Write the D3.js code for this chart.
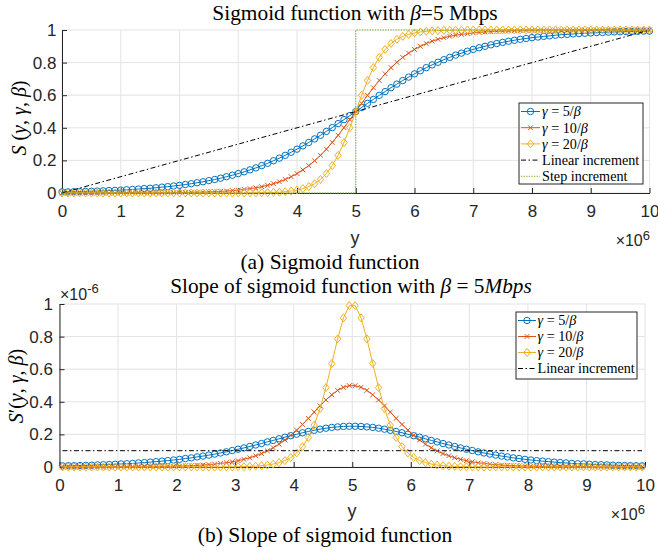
<!DOCTYPE html>
<html><head><meta charset="utf-8">
<script src="https://cdn.jsdelivr.net/npm/d3@7"></script>
<style>body{margin:0;background:#fff}svg{display:block}</style>
</head><body>
<svg id="c" width="658" height="552"></svg>
<script>
// ---------- data ----------
const xStep = 1e5;            // sample spacing of y (bps)
const xTickVals = [0,1,2,3,4,5,6,7,8,9,10];   // ×10^6
const yTickVals = [0,0.2,0.4,0.6,0.8,1];
const yTickLabels = ["0","0.2","0.4","0.6","0.8","1"];

// (a) S(y) at y = 0, 0.1e6, ..., 10e6
const sigBlue = [
.007,.007,.008,.009,.010,.011,.012,.013,.015,.016,
.018,.020,.022,.024,.027,.029,.032,.036,.039,.043,
.047,.052,.057,.063,.069,.076,.083,.091,.100,.109,
.119,.130,.142,.154,.168,.182,.198,.214,.231,.250,
.269,.289,.310,.332,.354,.378,.401,.426,.450,.475,
.500,
.525,.550,.574,.599,.622,.646,.668,.690,.711,.731,
.750,.769,.786,.802,.818,.832,.846,.858,.870,.881,
.891,.900,.909,.917,.924,.931,.937,.943,.948,.953,
.957,.961,.964,.968,.971,.973,.976,.978,.980,.982,
.984,.985,.987,.988,.989,.990,.991,.992,.993,.993];
const sigRed = [
0,0,0,0,0,0,0,0,0,0,
0,0,.001,.001,.001,.001,.001,.001,.002,.002,
.002,.003,.004,.004,.005,.007,.008,.010,.012,.015,
.018,.022,.027,.032,.039,.047,.057,.069,.083,.100,
.119,.142,.168,.198,.231,.269,.310,.354,.401,.450,
.500,
.550,.599,.646,.690,.731,.769,.802,.832,.858,.881,
.900,.917,.931,.943,.953,.961,.968,.973,.978,.982,
.985,.988,.990,.992,.993,.995,.996,.996,.997,.998,
.998,.998,.999,.999,.999,.999,.999,.999,1,1,
1,1,1,1,1,1,1,1,1,1];
const sigYel = [
0,0,0,0,0,0,0,0,0,0,
0,0,0,0,0,0,0,0,0,0,
0,0,0,0,0,0,0,0,0,0,
0,0,.001,.001,.002,.002,.004,.005,.008,.012,
.018,.027,.039,.057,.083,.119,.168,.231,.310,.401,
.500,
.599,.690,.769,.832,.881,.917,.943,.961,.973,.982,
.988,.992,.995,.996,.998,.998,.999,.999,1,1,
1,1,1,1,1,1,1,1,1,1,
1,1,1,1,1,1,1,1,1,1,
1,1,1,1,1,1,1,1,1,1];
const linX = [0, 1e7], linY = [0, 1];
const stepX = [0, 5e6, 5e6, 1e7], stepY = [0, 0, 1, 1];

// (b) S'(y) in units of 1e-6, at y = 0.05e6, 0.15e6, ..., 9.95e6
const dBlue = [
.007,.008,.008,.009,.010,.011,.013,.014,.015,.017,
.019,.020,.022,.025,.027,.030,.033,.036,.039,.043,
.047,.052,.056,.062,.067,.073,.079,.086,.093,.101,
.109,.117,.126,.135,.144,.154,.163,.173,.183,.192,
.201,.210,.218,.225,.232,.238,.243,.246,.249,.250,
.250,.249,.246,.243,.238,.232,.225,.218,.210,.201,
.192,.183,.173,.163,.154,.144,.135,.126,.117,.109,
.101,.093,.086,.079,.073,.067,.062,.056,.052,.047,
.043,.039,.036,.033,.030,.027,.025,.022,.020,.019,
.017,.015,.014,.013,.011,.010,.009,.008,.008,.007];
const dRed = [
0,0,0,0,0,0,0,0,0,.001,
.001,.001,.001,.001,.002,.002,.002,.003,.004,.004,
.005,.007,.008,.010,.012,.015,.018,.022,.026,.032,
.039,.047,.057,.069,.082,.099,.118,.140,.166,.194,
.226,.261,.298,.337,.375,.411,.443,.470,.489,.499,
.499,.489,.470,.443,.411,.375,.337,.298,.261,.226,
.194,.166,.140,.118,.099,.082,.069,.057,.047,.039,
.032,.026,.022,.018,.015,.012,.010,.008,.007,.005,
.004,.004,.003,.002,.002,.002,.001,.001,.001,.001,
.001,0,0,0,0,0,0,0,0,0];
const dYel = [
0,0,0,0,0,0,0,0,0,0,
0,0,0,0,0,0,0,0,0,0,
0,0,0,0,0,0,0,0,.001,.001,
.002,.002,.004,.005,.008,.012,.018,.027,.039,.058,
.086,.125,.181,.257,.359,.487,.635,.786,.915,.990,
.990,.915,.786,.635,.487,.359,.257,.181,.125,.086,
.058,.039,.027,.018,.012,.008,.005,.004,.002,.002,
.001,.001,0,0,0,0,0,0,0,0,
0,0,0,0,0,0,0,0,0,0,
0,0,0,0,0,0,0,0,0,0];
const dLinX = [0.05e6, 9.95e6], dLinY = [0.1, 0.1];

const C = {blue:"#0072BD", red:"#D95319", yel:"#EDB120", green:"#77AC30", black:"#000"};
const SERIF = "'Liberation Serif','Times New Roman',serif";
const SANS = "'Liberation Sans',Arial,Helvetica,sans-serif";

const svg = d3.select("#c");

function rich(g, parts, attrs){
  const t = g.append("text");
  Object.entries(attrs).forEach(([k,v])=>t.attr(k,v));
  parts.forEach(p=>{
    const ts = t.append("tspan").text(p.t);
    if(p.i) ts.attr("font-style","italic");
    if(p.sup) ts.attr("baseline-shift", p.sup).attr("font-size", p.fs);
  });
  return t;
}

function marker(g, type, cx, cy, color){
  if(type==="o"){
    g.append("circle").attr("cx",cx).attr("cy",cy).attr("r",3.2)
      .attr("fill","none").attr("stroke",color).attr("stroke-width",1);
  } else if(type==="x"){
    const s=2.4;
    g.append("path").attr("d",`M${cx-s},${cy-s}L${cx+s},${cy+s}M${cx-s},${cy+s}L${cx+s},${cy-s}`)
      .attr("stroke",color).attr("stroke-width",1).attr("fill","none");
  } else if(type==="d"){
    const w=3.2,h=4;
    g.append("path").attr("d",`M${cx},${cy-h}L${cx+w},${cy}L${cx},${cy+h}L${cx-w},${cy}Z`)
      .attr("stroke",color).attr("stroke-width",1).attr("fill","none");
  }
}

function panel(o){
  const x = d3.scaleLinear().domain([0,1e7]).range([o.x0,o.x1]);
  const y = d3.scaleLinear().domain([0,1]).range([o.y0,o.y1]);
  const g = svg.append("g");
  // grid
  g.selectAll(".gx").data(xTickVals).join("line")
    .attr("x1",d=>x(d*1e6)).attr("x2",d=>x(d*1e6)).attr("y1",o.y0).attr("y2",o.y1)
    .attr("stroke","#e3e3e3").attr("stroke-width",1);
  g.selectAll(".gy").data(yTickVals).join("line")
    .attr("y1",d=>y(d)).attr("y2",d=>y(d)).attr("x1",o.x0).attr("x2",o.x1)
    .attr("stroke","#e3e3e3").attr("stroke-width",1);
  // axes
  const ax = g.append("g").attr("transform",`translate(0,${o.y0})`)
    .call(d3.axisBottom(x).tickValues(xTickVals.map(d=>d*1e6)).tickFormat(d=>d/1e6)
      .tickSizeInner(-5).tickSizeOuter(0).tickPadding(12));
  const ay = g.append("g").attr("transform",`translate(${o.x0},0)`)
    .call(d3.axisLeft(y).tickValues(yTickVals).tickFormat((d,i)=>yTickLabels[i])
      .tickSizeInner(-5).tickSizeOuter(0).tickPadding(o.ypad));
  [ax,ay].forEach(a=>{
    a.selectAll("path,line").attr("stroke","#262626").attr("stroke-width",1);
    a.selectAll("text").attr("fill","#262626").attr("font-family",SANS).attr("font-size",17);
  });
  return {g,x,y};
}

function series(P, xs, vals, color, mk, dash){
  const line = d3.line().x((d,i)=>P.x(xs[i])).y(d=>P.y(d));
  P.g.append("path").datum(vals).attr("d",line).attr("fill","none")
    .attr("stroke",color).attr("stroke-width",1)
    .attr("stroke-dasharray",dash||null);
  if(mk){
    const mg = P.g.append("g");
    vals.forEach((v,i)=>marker(mg, mk, P.x(xs[i]), P.y(v), color));
  }
}

function legend(P, items, box, rows){
  const g = svg.append("g");
  g.append("rect").attr("x",box.x).attr("y",box.y).attr("width",box.w).attr("height",box.h)
    .attr("fill","#fff").attr("stroke","#262626").attr("stroke-width",1);
  items.forEach((it,i)=>{
    const cy = rows.y0 + i*rows.dy;
    g.append("line").attr("x1",rows.lx0).attr("x2",rows.lx1).attr("y1",cy).attr("y2",cy)
      .attr("stroke",it.color).attr("stroke-width",1).attr("stroke-dasharray",it.dash||null);
    if(it.mk) marker(g, it.mk, (rows.lx0+rows.lx1)/2, cy, it.color);
    rich(g, it.parts, {x:rows.tx, y:cy, dy:"0.34em", "font-family":SERIF, "font-size":14.2, fill:"#000"});
  });
}

// ---------- panel (a) ----------
const xsA = sigBlue.map((d,i)=>i*xStep);
const A = panel({x0:62, x1:649.5, y0:193, y1:30, ypad:5.5});
series(A, xsA, sigBlue, C.blue, "o");
series(A, xsA, sigRed, C.red, "x");
series(A, xsA, sigYel, C.yel, "d");
series(A, linX, linY, C.black, null, "5,2.5,1.5,2.5");
series(A, stepX, stepY, C.green, null, "1.3,1.3");

rich(svg, [{t:"Sigmoid function with "},{t:"β",i:true},{t:"=5 Mbps"}],
  {x:355, y:20, "text-anchor":"middle", "font-family":SERIF, "font-size":21.4, fill:"#000"});
rich(svg, [{t:"S",i:true},{t:" ("},{t:"y",i:true},{t:", "},{t:"γ",i:true},{t:", "},{t:"β",i:true},{t:")"}],
  {transform:"translate(26,118) rotate(-90)", "text-anchor":"middle", "font-family":SERIF, "font-size":20, fill:"#000"});
svg.append("text").attr("x",355).attr("y",238).attr("dy","0.35em").attr("text-anchor","middle")
  .attr("font-family",SANS).attr("font-size",18).attr("fill","#262626").text("y");
rich(svg, [{t:"×10"},{t:"6",sup:"6.5",fs:13}],
  {x:650, y:246, "text-anchor":"end", "font-family":SANS, "font-size":16, fill:"#262626"});
svg.append("text").attr("x",330).attr("y",269).attr("text-anchor","middle")
  .attr("font-family",SERIF).attr("font-size",21.5).attr("fill","#000").text("(a) Sigmoid function");

legend(A, [
  {parts:[{t:"γ",i:true},{t:" = 5/"},{t:"β",i:true}], color:C.blue, mk:"o"},
  {parts:[{t:"γ",i:true},{t:" = 10/"},{t:"β",i:true}], color:C.red, mk:"x"},
  {parts:[{t:"γ",i:true},{t:" = 20/"},{t:"β",i:true}], color:C.yel, mk:"d"},
  {parts:[{t:"Linear increment"}], color:C.black, dash:"5,2.5,1.5,2.5"},
  {parts:[{t:"Step increment"}], color:C.green, dash:"1.3,1.3"}
], {x:519, y:103, w:124, h:81}, {y0:111.5, dy:16.2, lx0:521, lx1:540, tx:542});

// ---------- panel (b) ----------
const xsB = dBlue.map((d,i)=>(i+0.5)*xStep);
const B = panel({x0:59.5, x1:645, y0:467, y1:304, ypad:6.5});
series(B, xsB, dBlue, C.blue, "o");
series(B, xsB, dRed, C.red, "x");
series(B, xsB, dYel, C.yel, "d");
series(B, dLinX, dLinY, C.black, null, "5,2.5,1.5,2.5");

rich(svg, [{t:"Slope of sigmoid function with "},{t:"β",i:true},{t:" = 5"},{t:"Mbps",i:true}],
  {x:351, y:293, "text-anchor":"middle", "font-family":SERIF, "font-size":21.3, fill:"#000"});
rich(svg, [{t:"S",i:true},{t:"′("},{t:"y",i:true},{t:", "},{t:"γ",i:true},{t:", "},{t:"β",i:true},{t:")"}],
  {transform:"translate(23,386) rotate(-90)", "text-anchor":"middle", "font-family":SERIF, "font-size":20, fill:"#000"});
rich(svg, [{t:"×10"},{t:"-6",sup:"7",fs:13}],
  {x:60, y:299.5, "text-anchor":"start", "font-family":SANS, "font-size":16, fill:"#262626"});
svg.append("text").attr("x",352).attr("y",511).attr("dy","0.35em").attr("text-anchor","middle")
  .attr("font-family",SANS).attr("font-size",18).attr("fill","#262626").text("y");
rich(svg, [{t:"×10"},{t:"6",sup:"6.5",fs:13}],
  {x:645, y:520, "text-anchor":"end", "font-family":SANS, "font-size":16, fill:"#262626"});
svg.append("text").attr("x",325).attr("y",542).attr("text-anchor","middle")
  .attr("font-family",SERIF).attr("font-size",21.5).attr("fill","#000").text("(b) Slope of sigmoid function");

legend(B, [
  {parts:[{t:"γ",i:true},{t:" = 5/"},{t:"β",i:true}], color:C.blue, mk:"o"},
  {parts:[{t:"γ",i:true},{t:" = 10/"},{t:"β",i:true}], color:C.red, mk:"x"},
  {parts:[{t:"γ",i:true},{t:" = 20/"},{t:"β",i:true}], color:C.yel, mk:"d"},
  {parts:[{t:"Linear increment"}], color:C.black, dash:"5,2.5,1.5,2.5"}
], {x:516, y:312, w:121, h:67}, {y0:320.5, dy:16, lx0:518, lx1:536, tx:537.5});
</script>
</body></html>
